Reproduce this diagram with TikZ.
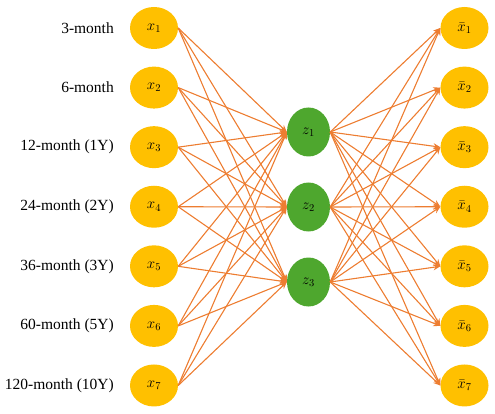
\RequirePackage{fix-cm}
\documentclass[tikz,border=0pt]{standalone}
\usepackage{fontspec}
\setmainfont{Liberation Serif}
\usetikzlibrary{shapes.geometric,arrows.meta}
\definecolor{nodeyellow}{HTML}{FFC000}
\definecolor{nodegreen}{HTML}{4EA72E}
\definecolor{lineorange}{HTML}{ED7D31}
\begin{document}
\begin{tikzpicture}[x=1pt,y=-1pt,
  inbox/.style={ellipse,fill=nodeyellow,minimum width=48pt,minimum height=42pt,inner sep=0pt,font=\fontsize{15}{17}\selectfont},
  hidbox/.style={ellipse,fill=nodegreen,minimum width=43pt,minimum height=49pt,inner sep=0pt,font=\fontsize{15}{17}\selectfont},
  lab/.style={anchor=east,inner sep=0pt,font=\fontsize{15.5}{18}\selectfont},
  conn/.style={draw=lineorange,line width=1.1pt,-{Stealth[length=7pt,width=6pt]}}]
\useasboundingbox (0,0) rectangle (495,414);
\foreach \i/\t in {1/3-month,2/6-month,3/12-month (1Y),4/24-month (2Y),5/36-month (3Y),6/60-month (5Y),7/120-month (10Y)}{
  \pgfmathsetmacro{\yy}{28+59.58*(\i-1)}
  \node[inbox] (x\i) at (154,\yy) {$x_{\i}$};
  \node[inbox] (y\i) at (464.5,\yy) {$\bar{x}_{\i}$};
  \node[lab] (l\i) at (114,\yy) {\t};
}
\foreach \j in {1,2,3}{
  \pgfmathsetmacro{\yy}{132+75*(\j-1)}
  \node[hidbox] (z\j) at (308.5,\yy) {$z_{\j}$};
}
\foreach \i in {1,...,7}{
  \foreach \j in {1,2,3}{
    \draw[conn] (x\i.east) -- (z\j.west);
    \draw[conn] (z\j.east) -- (y\i.west);
  }
}
\end{tikzpicture}
\end{document}
